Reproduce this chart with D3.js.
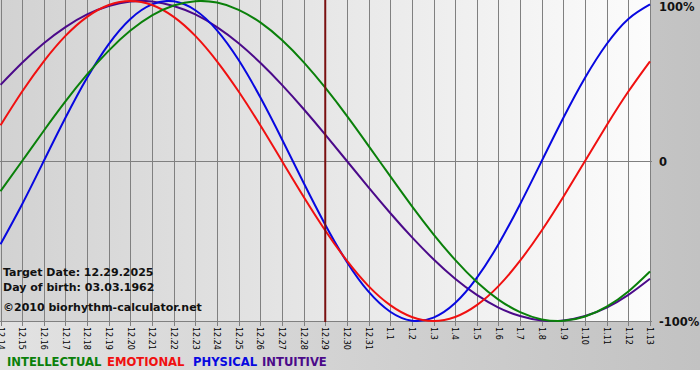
<!DOCTYPE html>
<html><head><meta charset="utf-8">
<script src="https://cdn.jsdelivr.net/npm/d3@7"></script>
<style>body{margin:0;background:#fff}svg{display:block}</style>
</head><body>
<script>
const dates = ["12.14","12.15","12.16","12.17","12.18","12.19","12.20","12.21","12.22","12.23","12.24","12.25","12.26","12.27","12.28","12.29","12.30","12.31","1.1","1.2","1.3","1.4","1.5","1.6","1.7","1.8","1.9","1.10","1.11","1.12","1.13"];
const intellectual = [-18.9,0,18.9,37.2,54.1,69.0,81.5,91.0,97.2,99.9,99.0,94.5,86.6,75.6,61.8,45.8,28.2,9.5,-9.5,-28.2,-45.8,-61.8,-75.6,-86.6,-94.5,-99.0,-99.9,-97.2,-91.0,-81.5,-69.0];
const emotional = [22.3,43.4,62.3,78.2,90.1,97.5,100,97.5,90.1,78.2,62.3,43.4,22.3,0,-22.3,-43.4,-62.3,-78.2,-90.1,-97.5,-100,-97.5,-90.1,-78.2,-62.3,-43.4,-22.3,0,22.3,43.4,62.3];
const physical = [-52.0,-27.0,0,27.0,52.0,73.1,88.8,97.9,99.8,94.2,81.7,63.1,39.8,13.6,-13.6,-39.8,-63.1,-81.7,-94.2,-99.8,-97.9,-88.8,-73.1,-52.0,-27.0,0,27.0,52.0,73.1,88.8,97.9];
const intuitive = [47.6,61.4,73.6,83.7,91.6,96.9,99.7,99.7,96.9,91.6,83.7,73.6,61.4,47.6,32.5,16.5,0,-16.5,-32.5,-47.6,-61.4,-73.6,-83.7,-91.6,-96.9,-99.7,-99.7,-96.9,-91.6,-83.7,-73.6];
const yTicks = [100, 0, -100];
const yTickLabels = ["100%", "0", "-100%"];
const targetDate = "12.29";
const infoLines = ["Target Date: 12.29.2025", "Day of birth: 03.03.1962", "©2010 biorhythm-calculator.net"];
const legendNames = ["INTELLECTUAL", "EMOTIONAL", "PHYSICAL", "INTUITIVE"];

const colors = {INTELLECTUAL:"#0a800a", EMOTIONAL:"#f01010", PHYSICAL:"#0808e0", INTUITIVE:"#4b0a8a"};
const seriesByName = {INTELLECTUAL:intellectual, EMOTIONAL:emotional, PHYSICAL:physical, INTUITIVE:intuitive};

const W = 700, H = 380, imgH = 370;
const plotR = 651, plotB = 322;
const svg = d3.select("body").append("svg").attr("width", W).attr("height", H)
  .style("font-family", "'DejaVu Sans', Verdana, sans-serif");

const defs = svg.append("defs");
const g1 = defs.append("linearGradient").attr("id","bgGrad").attr("x1","0").attr("x2","1").attr("y1","0").attr("y2","0");
g1.append("stop").attr("offset","0").attr("stop-color","#e2e2e2");
g1.append("stop").attr("offset","1").attr("stop-color","#c2c2c2");
const g2 = defs.append("linearGradient").attr("id","plotGrad").attr("x1","0").attr("x2","1").attr("y1","0").attr("y2","0");
g2.append("stop").attr("offset","0").attr("stop-color","#d2d2d2");
g2.append("stop").attr("offset","1").attr("stop-color","#fcfcfc");

svg.append("rect").attr("width", W).attr("height", imgH).attr("fill", "url(#bgGrad)");
svg.append("rect").attr("width", plotR).attr("height", plotB).attr("fill", "url(#plotGrad)");

const x = d3.scalePoint().domain(dates).range([0.5, 650]);
const y = d3.scaleLinear().domain([-100, 100]).range([321, 1]);

// vertical grid + ticks
svg.append("g").selectAll("line").data(dates).join("line")
  .attr("x1", d => Math.round(x(d)) + 0.5).attr("x2", d => Math.round(x(d)) + 0.5)
  .attr("y1", 0).attr("y2", plotB + 4)
  .attr("stroke", "#808080").attr("stroke-width", 1);

// horizontal lines at 0 and -100
svg.append("g").selectAll("line").data([0, -100]).join("line")
  .attr("x1", 0).attr("x2", plotR + 1)
  .attr("y1", d => Math.round(y(d)) + 0.5).attr("y2", d => Math.round(y(d)) + 0.5)
  .attr("stroke", "#808080").attr("stroke-width", 1);

// x labels (first one is cut by the left edge, as in the reference)
svg.append("g").selectAll("text").data(dates).join("text")
  .attr("transform", d => `translate(${x(d)},${plotB + 5}) rotate(90)`)
  .attr("dy", "0.35em")
  .attr("font-size", 8).attr("fill", "#000")
  .text(d => d);

// y labels
svg.append("g").selectAll("text").data(yTicks).join("text")
  .attr("x", 659).attr("y", (d) => Math.max(11, y(d) + 5))
  .attr("font-size", 11.5).attr("font-weight", "bold").attr("fill", "#111")
  .text((d, i) => yTickLabels[i]);

// info text
svg.append("g").selectAll("text").data(infoLines).join("text")
  .attr("x", 3).attr("y", (d, i) => [275.5, 291, 310.5][i])
  .attr("font-size", 11).attr("font-weight", "bold").attr("fill", "#111")
  .text(d => d);

// curves
const line = d3.line().x((d, i) => x(dates[i])).y(d => y(d)).curve(d3.curveNatural);
["INTUITIVE", "PHYSICAL", "EMOTIONAL", "INTELLECTUAL"].forEach(name => {
  svg.append("path").datum(seriesByName[name]).attr("d", line)
    .attr("fill", "none").attr("stroke", colors[name]).attr("stroke-width", 2);
});

// target date line
svg.append("line").attr("x1", x(targetDate)).attr("x2", x(targetDate))
  .attr("y1", 0).attr("y2", plotB)
  .attr("stroke", "#7a1010").attr("stroke-width", 2);

// legend
const legendX = [7, 107, 193, 262];
svg.append("g").selectAll("text").data(legendNames).join("text")
  .attr("x", (d, i) => legendX[i]).attr("y", 366)
  .attr("font-size", 11.6).attr("font-weight", "bold")
  .attr("fill", d => colors[d])
  .text(d => d);
</script>
</body></html>
